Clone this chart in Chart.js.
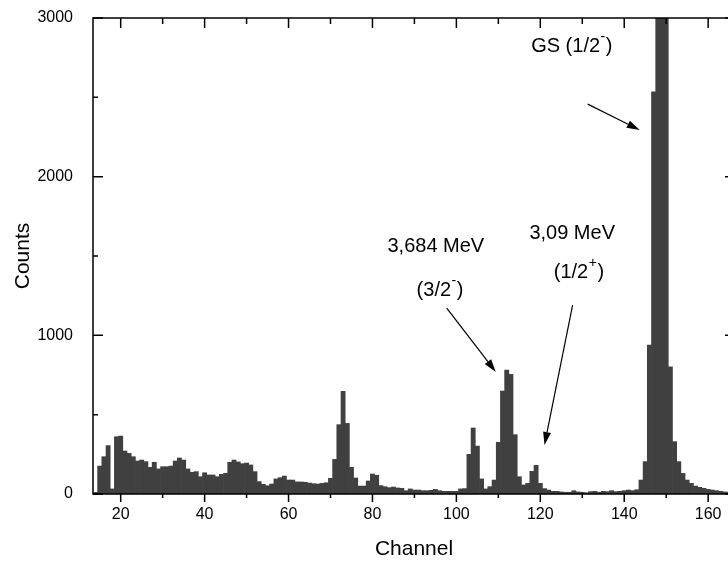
<!DOCTYPE html>
<html lang="en">
<head>
<meta charset="UTF-8">
<title>Spectrum</title>
<script src="https://cdn.jsdelivr.net/npm/chart.js"></script>
<style>
  html, body { margin: 0; padding: 0; background: #fff; overflow: hidden; }
  .wrap { width: 728px; height: 565px; overflow: hidden; }
</style>
</head>
<body>
<div class="wrap"><canvas id="spec" width="745" height="565"></canvas></div>
<script>
  // histogram: one bin per channel, starting at channel 14
  var firstChannel = 14;
  var counts = [
    10, 176, 235, 305, 32, 361, 365, 271, 256, 235,      // 14-23
    208, 214, 204, 168, 200, 158, 172, 172, 176, 208,    // 24-33
    227, 214, 158, 137, 141, 109, 134, 120, 120, 109,    // 34-43
    124, 130, 200, 214, 202, 191, 195, 183, 141, 78,     // 44-53
    61, 52, 63, 95, 103, 113, 88, 88, 76, 76,            // 54-63
    74, 69, 65, 63, 67, 71, 99, 218, 437, 647,           // 64-73
    445, 168, 101, 50, 50, 82, 126, 118, 53, 46,         // 74-83
    40, 44, 38, 36, 21, 32, 25, 25, 21, 21,              // 84-93
    23, 29, 21, 17, 17, 17, 17, 32, 34, 250,             // 94-103
    416, 302, 95, 32, 46, 88, 326, 649, 781, 754,        // 104-113
    374, 109, 57, 67, 143, 181, 67, 34, 25, 17,          // 114-123
    17, 13, 11, 11, 21, 13, 11, 8, 15, 17,               // 124-133
    11, 17, 15, 21, 15, 17, 21, 25, 21, 27,              // 134-143
    88, 204, 939, 2535, 3400, 3700, 3200, 802, 330, 204, // 144-153
    130, 88, 67, 50, 42, 36, 29, 25, 21, 17,             // 154-163
    13, 11                                               // 164-165
  ];
  var channels = counts.map(function(_, i) { return firstChannel + i; });

  var xTickValues = [20, 30, 40, 50, 60, 70, 80, 90, 100, 110, 120, 130, 140, 150, 160];
  var xTickLabels = [20, 40, 60, 80, 100, 120, 140, 160];
  var yTickValues = [0, 500, 1000, 1500, 2000, 2500, 3000];
  var yTickLabels = [0, 1000, 2000, 3000];

  // peak labels, in data coordinates (channel, counts)
  var notes = [
    { text: 'GS (1/2', sup: '-', tail: ')', x: 127.5, y: 2823 },
    { text: '3,684 MeV', x: 95.1, y: 1563 },
    { text: '(3/2', sup: '-', tail: ')', x: 96.1, y: 1285 },
    { text: '3,09 MeV', x: 127.6, y: 1645 },
    { text: '(1/2', sup: '+', tail: ')', x: 129.2, y: 1399 }
  ];
  var arrows = [
    { from: [131.3, 2457], to: [143.7, 2294] },
    { from: [97.7, 1172], to: [109.4, 769] },
    { from: [127.7, 1191], to: [121.0, 309] }
  ];

  var FONT = '"Liberation Sans", Arial, sans-serif';

  var framePlugin = {
    id: 'frame',
    afterDatasetsDraw: function(chart) {
      var ctx = chart.ctx, a = chart.chartArea;
      var xs = chart.scales.x, ys = chart.scales.y;
      ctx.save();
      ctx.strokeStyle = '#000';
      ctx.lineWidth = 1.5;
      ctx.strokeRect(a.left, a.top, a.right - a.left, a.bottom - a.top);
      ctx.beginPath();
      xTickValues.forEach(function(v) {
        var px = xs.getPixelForValue(v);
        var major = xTickLabels.indexOf(v) >= 0;
        ctx.moveTo(px, a.bottom); ctx.lineTo(px, a.bottom + (major ? 8 : 4));
        ctx.moveTo(px, a.top); ctx.lineTo(px, a.top + (major ? 10 : 6));
      });
      yTickValues.forEach(function(v) {
        var py = ys.getPixelForValue(v);
        var major = yTickLabels.indexOf(v) >= 0;
        ctx.moveTo(a.left, py); ctx.lineTo(a.left + (major ? 10 : 5), py);
        ctx.moveTo(a.right, py); ctx.lineTo(a.right - (major ? 10 : 5), py);
      });
      ctx.stroke();

      // arrows
      ctx.fillStyle = '#000';
      ctx.lineWidth = 1.2;
      arrows.forEach(function(ar) {
        var x1 = xs.getPixelForValue(ar.from[0]), y1 = ys.getPixelForValue(ar.from[1]);
        var x2 = xs.getPixelForValue(ar.to[0]), y2 = ys.getPixelForValue(ar.to[1]);
        var ang = Math.atan2(y2 - y1, x2 - x1);
        var len = 13, half = 4;
        var bx = x2 - len * Math.cos(ang), by = y2 - len * Math.sin(ang);
        ctx.beginPath();
        ctx.moveTo(x1, y1); ctx.lineTo(bx, by);
        ctx.stroke();
        ctx.beginPath();
        ctx.moveTo(x2, y2);
        ctx.lineTo(bx + half * Math.sin(ang), by - half * Math.cos(ang));
        ctx.lineTo(bx - half * Math.sin(ang), by + half * Math.cos(ang));
        ctx.closePath();
        ctx.fill();
      });

      // text labels with optional superscript
      ctx.textBaseline = 'middle';
      ctx.textAlign = 'left';
      notes.forEach(function(n) {
        var main = '20px ' + FONT, small = '14px ' + FONT;
        ctx.font = main;
        var w1 = ctx.measureText(n.text).width;
        var w3 = n.tail ? ctx.measureText(n.tail).width : 0;
        ctx.font = small;
        var w2 = n.sup ? ctx.measureText(n.sup).width + 1 : 0;
        var px = xs.getPixelForValue(n.x) - (w1 + w2 + w3) / 2;
        var py = ys.getPixelForValue(n.y);
        ctx.font = main;
        ctx.fillText(n.text, px, py);
        if (n.sup) {
          ctx.font = small;
          ctx.fillText(n.sup, px + w1 + 0.5, py - 9);
          ctx.font = main;
          ctx.fillText(n.tail, px + w1 + w2, py);
        }
      });
      ctx.restore();
    }
  };

  var ctx = document.getElementById('spec').getContext('2d');
  var chart = new Chart(ctx, {
    type: 'bar',
    data: {
      datasets: [{
        data: channels.map(function(c, i) { return { x: c, y: counts[i] }; }),
        backgroundColor: '#404040',
        borderWidth: 0,
        barPercentage: 1,
        categoryPercentage: 1
      }]
    },
    options: {
      responsive: false,
      animation: false,
      layout: { padding: { top: 18, right: 10, left: 0, bottom: 0 } },
      plugins: { legend: { display: false }, tooltip: { enabled: false } },
      scales: {
        x: {
          type: 'linear',
          min: 13.4,
          max: 166.4,
          offset: false,
          grid: { display: false, drawTicks: false },
          border: { display: false },
          ticks: {
            stepSize: 10,
            includeBounds: false,
            autoSkip: false,
            maxRotation: 0,
            padding: 11,
            color: '#000',
            font: { family: FONT, size: 16 },
            callback: function(v) { return xTickLabels.indexOf(v) >= 0 ? String(v) : ''; }
          },
          title: {
            display: true, text: 'Channel', color: '#000',
            font: { family: FONT, size: 21 },
            padding: { top: 0, bottom: 3 }
          },
          afterFit: function(s) {
            s.height = 71;
            s.paddingLeft = 0; s.paddingRight = 0;
          }
        },
        y: {
          min: 0,
          max: 3000,
          grid: { display: false, drawTicks: false },
          border: { display: false },
          ticks: {
            stepSize: 500,
            padding: 20,
            color: '#000',
            font: { family: FONT, size: 16 },
            callback: function(v) { return yTickLabels.indexOf(v) >= 0 ? String(v) : ''; }
          },
          title: {
            display: true, text: 'Counts', color: '#000',
            font: { family: FONT, size: 21 },
            padding: { top: 11, bottom: 0 }
          },
          afterFit: function(s) {
            s.width = 93;
            s.paddingTop = 0; s.paddingBottom = 0;
          }
        }
      }
    },
    plugins: [framePlugin]
  });
</script>
</body>
</html>
